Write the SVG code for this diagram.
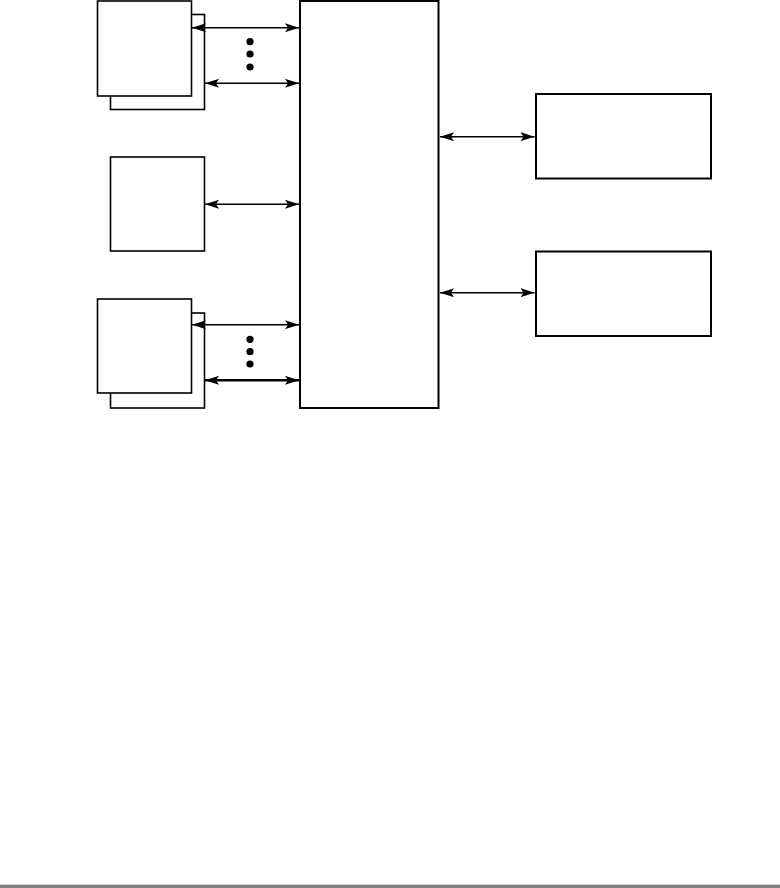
<svg xmlns="http://www.w3.org/2000/svg" width="780" height="888" viewBox="0 0 780 888">
<style>
.box{fill:#fff;stroke:#000;stroke-width:2}
.thin{fill:#fff;stroke:#000;stroke-width:1.6}
.c{stroke:#000;stroke-width:1.4;fill:none;marker-start:url(#a);marker-end:url(#a)}
.dot{fill:#000}
</style>
<defs>
<marker id="a" viewBox="0 0 14 9" refX="14" refY="4.5" markerWidth="14" markerHeight="9" markerUnits="userSpaceOnUse" orient="auto-start-reverse">
<path d="M0,0 L14,4.5 L0,9 L3,4.5 Z" fill="#000"/>
</marker>
</defs>
<rect width="780" height="888" fill="#fff"/>
<g id="stack-top">
<rect class="thin" x="110.5" y="14.5" width="94" height="95"/>
<rect class="thin" x="97.5" y="1" width="94" height="95"/>
</g>
<g id="single">
<rect class="thin" x="110.5" y="157" width="94" height="94"/>
</g>
<g id="stack-bottom">
<rect class="thin" x="110.5" y="313" width="94" height="95"/>
<rect class="thin" x="97.5" y="299" width="94" height="94"/>
</g>
<g id="hub">
<rect class="box" x="300" y="1" width="138.5" height="407"/>
</g>
<g id="right-top">
<rect class="box" x="536" y="94" width="175" height="84.5"/>
</g>
<g id="right-bottom">
<rect class="box" x="536" y="251.5" width="175" height="84.5"/>
</g>
<g id="connectors">
<line class="c" x1="192" y1="27.7" x2="299" y2="27.7"/>
<line class="c" x1="205" y1="83.3" x2="299" y2="83.3"/>
<line class="c" x1="205" y1="204.3" x2="299" y2="204.3"/>
<line class="c" x1="192" y1="324.7" x2="299" y2="324.7"/>
<line class="c" style="stroke-width:2.4" x1="205" y1="380.3" x2="299" y2="380.3"/>
<line class="c" x1="440" y1="136.7" x2="534.5" y2="136.7"/>
<line class="c" x1="440" y1="292.7" x2="534.5" y2="292.7"/>
<circle class="dot" cx="250" cy="41.7" r="3.6"/>
<circle class="dot" cx="250" cy="54" r="3.6"/>
<circle class="dot" cx="250" cy="67" r="3.6"/>
<circle class="dot" cx="250" cy="339.3" r="3.6"/>
<circle class="dot" cx="250" cy="351.7" r="3.6"/>
<circle class="dot" cx="250" cy="364" r="3.6"/>
</g>
<rect x="0" y="884.7" width="780" height="3.3" fill="#808080"/>
</svg>
